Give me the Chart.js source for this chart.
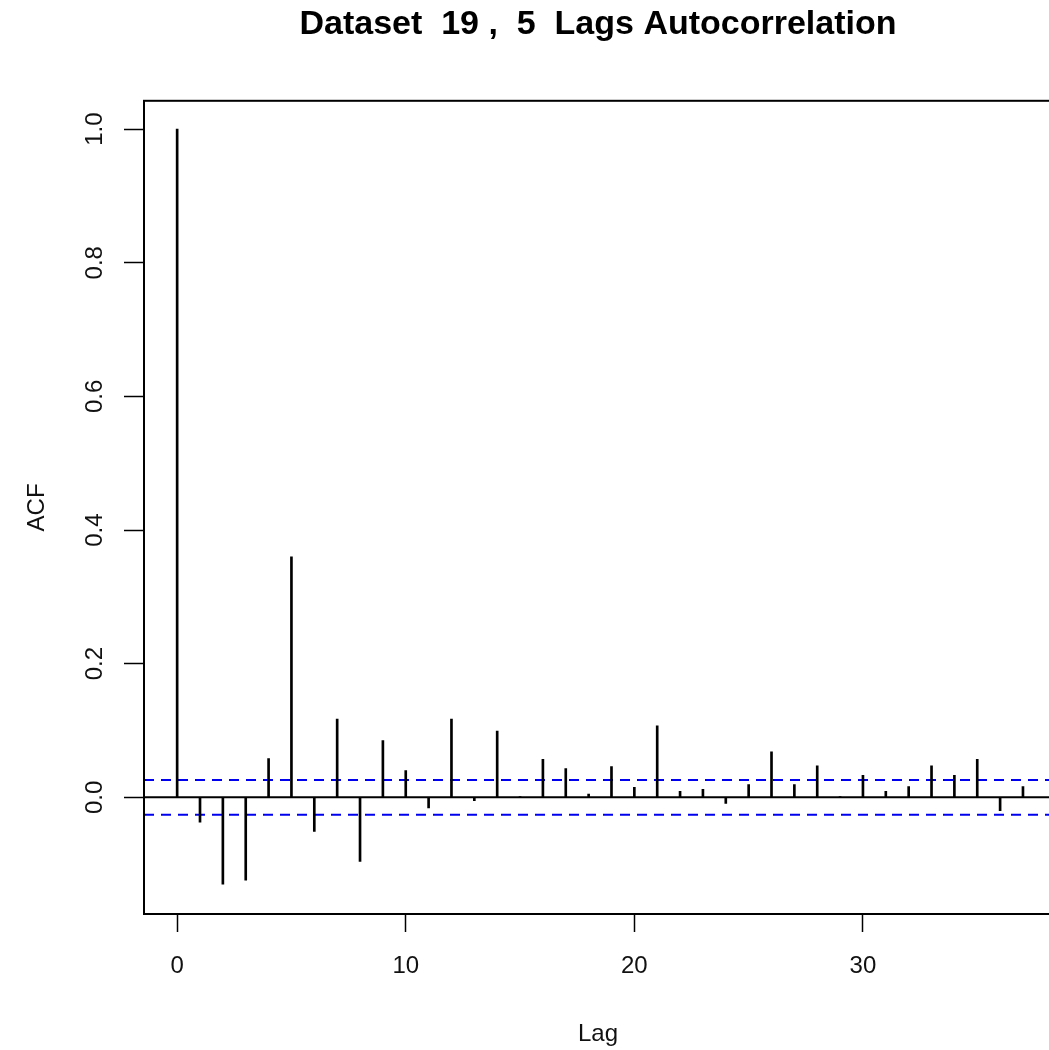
<!DOCTYPE html>
<html>
<head>
<meta charset="utf-8">
<script src="https://cdn.jsdelivr.net/npm/chart.js@4.4.0/dist/chart.umd.min.js"></script>
<style>
  html, body { margin: 0; padding: 0; background: #fff; overflow: hidden; }
  canvas { display: block; }
</style>
</head>
<body>
<canvas id="acfChart" width="1196" height="1050"></canvas>
<script>
// ACF values, lag 0..37
const lags = [0, 1, 2, 3, 4, 5, 6, 7, 8, 9, 10, 11, 12, 13, 14, 15, 16, 17, 18, 19,
              20, 21, 22, 23, 24, 25, 26, 27, 28, 29, 30, 31, 32, 33, 34, 35, 36, 37];
const acfValues = [1.0, -0.037, -0.130, -0.124, 0.058, 0.360, -0.051, 0.117, -0.096, 0.085,
                   0.040, -0.016, 0.117, -0.005, 0.099, 0.001, 0.057, 0.043, 0.005, 0.046,
                   0.015, 0.107, 0.009, 0.012, -0.009, 0.019, 0.068, 0.019, 0.047, 0.001,
                   0.033, 0.009, 0.016, 0.047, 0.033, 0.057, -0.020, 0.016];
const confLimit = 0.026;
const xTicks = [0, 10, 20, 30];
const yTicks = [0.0, 0.2, 0.4, 0.6, 0.8, 1.0];

// the plot box runs just past the right edge of the window
const xMin = -1.45, xMax = 38.27;
const font = 'Liberation Sans, Arial, sans-serif';

// box around the plot region, like R's box()
const plotBox = {
    id: 'plotBox',
    afterDraw(chart) {
        const a = chart.chartArea;
        const c = chart.ctx;
        c.save();
        c.strokeStyle = '#000';
        c.lineWidth = 2;
        c.strokeRect(a.left, a.top, a.right - a.left, a.bottom - a.top);
        c.restore();
    }
};

const hLine = (y, color, dash) => ({
    type: 'line',
    data: [{x: xMin, y: y}, {x: xMax, y: y}],
    borderColor: color,
    borderWidth: 2,
    borderDash: dash,
    pointRadius: 0,
    fill: false
});

new Chart(document.getElementById('acfChart'), {
    type: 'bar',
    data: {
        datasets: [
            {
                type: 'bar',
                data: lags.map((l, i) => ({x: l, y: acfValues[i]})),
                backgroundColor: '#000',
                barThickness: 2
            },
            hLine(0, '#000', []),
            hLine(confLimit, '#0000ee', [10, 7]),
            hLine(-confLimit, '#0000ee', [10, 7])
        ]
    },
    options: {
        responsive: false,
        animation: false,
        layout: { padding: { left: 0, right: 144, top: 0, bottom: 0 } },
        scales: {
            x: {
                type: 'linear',
                min: xMin,
                max: xMax,
                offset: false,
                afterBuildTicks: s => { s.ticks = xTicks.map(v => ({value: v})); },
                afterFit: s => { s.height = 136; },
                grid: { drawOnChartArea: false, drawTicks: true, tickLength: 18, tickColor: '#000', tickWidth: 1.5, offset: false },
                border: { display: false },
                ticks: { color: '#111', font: { family: font, size: 24 }, padding: 20, maxRotation: 0, autoSkip: false },
                title: { display: true, text: 'Lag', color: '#111', font: { family: font, size: 24 }, padding: { top: 0, bottom: 1 } }
            },
            y: {
                min: -0.1746,
                max: 1.0424,
                afterBuildTicks: s => { s.ticks = yTicks.map(v => ({value: v})); },
                afterFit: s => { s.width = 144; },
                grid: { drawOnChartArea: false, drawTicks: true, tickLength: 20, tickColor: '#000', tickWidth: 1.5 },
                border: { display: false },
                ticks: {
                    color: '#111', font: { family: font, size: 24 }, padding: 12,
                    minRotation: 90, maxRotation: 90, crossAlign: 'center',
                    callback: v => v.toFixed(1)
                },
                title: { display: true, text: 'ACF', color: '#111', font: { family: font, size: 24 }, padding: { top: 23, bottom: 0 } }
            }
        },
        plugins: {
            legend: { display: false },
            tooltip: { enabled: false },
            title: {
                display: true,
                fullSize: false,
                text: 'Dataset  19 ,  5  Lags Autocorrelation',
                color: '#000',
                font: { family: font, size: 34, weight: 'bold' },
                padding: { top: 4, bottom: 56 }
            }
        }
    },
    plugins: [plotBox]
});
</script>
</body>
</html>
